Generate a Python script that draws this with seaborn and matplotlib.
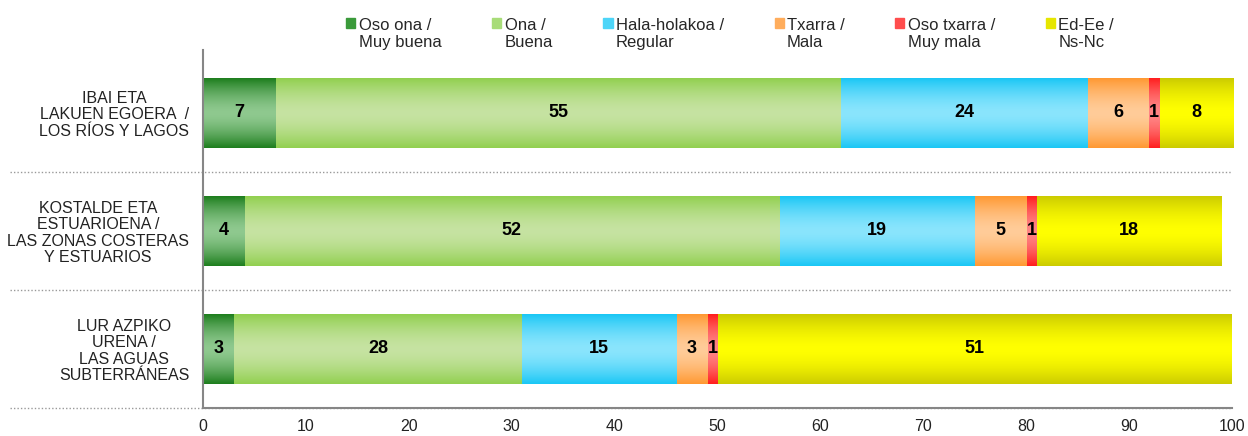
import numpy as np
import pandas as pd
import matplotlib
matplotlib.use("Agg")
import matplotlib.pyplot as plt
import matplotlib.colors as mcolors
from matplotlib.patches import Rectangle
from matplotlib.legend_handler import HandlerPatch
import seaborn as sns

# Datos
categorias = ["IBAI ETA\nLAKUEN EGOERA  /\nLOS RÍOS Y LAGOS",
              "KOSTALDE ETA\nESTUARIOENA /\nLAS ZONAS COSTERAS\nY ESTUARIOS",
              "LUR AZPIKO\nURENA /\nLAS AGUAS\nSUBTERRÁNEAS"]
series = ["Oso ona /\nMuy buena", "Ona /\nBuena", "Hala-holakoa /\nRegular",
          "Txarra /\nMala", "Oso txarra /\nMuy mala", "Ed-Ee /\nNs-Nc"]

oso_ona = [7, 4, 3]
ona = [55, 52, 28]
hala_holakoa = [24, 19, 15]
txarra = [5.9, 5, 3]
oso_txarra = [1.1, 1, 1]
ed_ee = [7.1, 18, 50]

# etiquetas tal como aparecen en el gráfico
etq_oso_ona = [7, 4, 3]
etq_ona = [55, 52, 28]
etq_hala = [24, 19, 15]
etq_txarra = [6, 5, 3]
etq_oso_txarra = [1, 1, 1]
etq_ed_ee = [8, 18, 51]

valores = [oso_ona, ona, hala_holakoa, txarra, oso_txarra, ed_ee]
etiquetas = [etq_oso_ona, etq_ona, etq_hala, etq_txarra, etq_oso_txarra, etq_ed_ee]

# colores: borde (oscuro) y centro (claro) del degradado
col_borde = ["#1f7f1f", "#92d050", "#1cc7f5", "#ff9933", "#ff1f1f", "#cccc00"]
col_centro = ["#8fc98f", "#c6e3a2", "#8ae5fd", "#ffcc99", "#ff8585", "#ffff00"]
col_leyenda = ["#3a9a3a", "#a8dc78", "#4dd5f8", "#ffad5c", "#ff4d4d", "#e6e600"]

df = pd.DataFrame(np.array(valores).T, columns=series)
df["cat"] = categorias
acum = df[series].cumsum(axis=1)

sns.set_style("white")
plt.rcParams["font.family"] = ["Liberation Sans", "DejaVu Sans"]

fig = plt.figure(figsize=(12.48, 4.36), dpi=100)
ax = fig.add_axes([0.1627, 0.0642, 0.8245, 0.8208])

# barras apiladas: se dibujan los acumulados de mayor a menor
orden = list(range(len(series)))[::-1]
for k in orden:
    sns.barplot(x=acum[series[k]], y=df["cat"], color=col_borde[k], orient="h",
                width=0.59, ax=ax, saturation=1)

# degradado vertical recortado a cada barra
t = np.abs(np.linspace(-1, 1, 64))
for i, p in enumerate(ax.patches):
    k = orden[i // len(categorias)]
    c0 = np.array(mcolors.to_rgb(col_centro[k]))
    c1 = np.array(mcolors.to_rgb(col_borde[k]))
    grad = c0[None, :] * (1 - t[:, None] ** 1.6) + c1[None, :] * t[:, None] ** 1.6
    x0, y0 = p.get_x(), p.get_y()
    im = ax.imshow(grad[:, None, :], extent=(x0, x0 + p.get_width(), y0 + p.get_height(), y0),
                   aspect="auto", zorder=2 + i * 0.01, interpolation="bilinear")
    im.set_clip_path(p)

# etiquetas de valores
for k in range(len(series)):
    for j in range(len(categorias)):
        centro = acum[series[k]].iloc[j] - valores[k][j] / 2
        ax.text(centro, j, str(etiquetas[k][j]), ha="center", va="center",
                fontsize=13, fontweight="bold", color="black", zorder=5)

ax.set_xlim(0, 100)
ax.set_ylim(2.5, -0.53)
ax.set_xticks(range(0, 101, 10))
ax.set_xlabel("")
ax.set_ylabel("")
ax.tick_params(axis="x", length=4, color="#868686", labelsize=11.5, labelcolor="#222222", pad=4)
ax.tick_params(axis="y", length=0, labelsize=11.5, labelcolor="#222222", pad=10)
for lab in ax.get_yticklabels():
    lab.set_multialignment("center")
    lab.set_linespacing(1.12)
ax.set_yticks([0.5, 1.5, 2.5], minor=True)
ax.tick_params(axis="y", which="minor", length=3, color="#868686", width=1.5)

for s in ["top", "right"]:
    ax.spines[s].set_visible(False)
for s in ["left", "bottom"]:
    ax.spines[s].set_color("#868686")
    ax.spines[s].set_linewidth(1.5)
    ax.spines[s].set_zorder(6)

# separadores punteados
for ysep in [0.5, 1.5, 2.5]:
    ax.plot([-0.188, 1.0], [ysep, ysep], transform=ax.get_yaxis_transform(),
            color="#999999", lw=1, ls=(0, (1, 1.5)), clip_on=False, zorder=1)

# leyenda
def cuadro(legend, orig_handle, xdescent, ydescent, width, height, fontsize):
    return Rectangle((-xdescent, -ydescent + height * 1.05), width, height)

handles = [Rectangle((0, 0), 1, 1, color=c) for c in col_leyenda]
fig.legend(handles, series, loc="upper left", bbox_to_anchor=(0.2708, 0.978), ncol=6,
           frameon=False, fontsize=12, handlelength=0.55, handleheight=0.55,
           handletextpad=0.2, columnspacing=3.03, borderpad=0, labelspacing=0.2,
           handler_map={Rectangle: HandlerPatch(patch_func=cuadro)})
for txt in fig.legends[0].get_texts():
    txt.set_linespacing(1.15)

fig.savefig("out.png", dpi=100)
